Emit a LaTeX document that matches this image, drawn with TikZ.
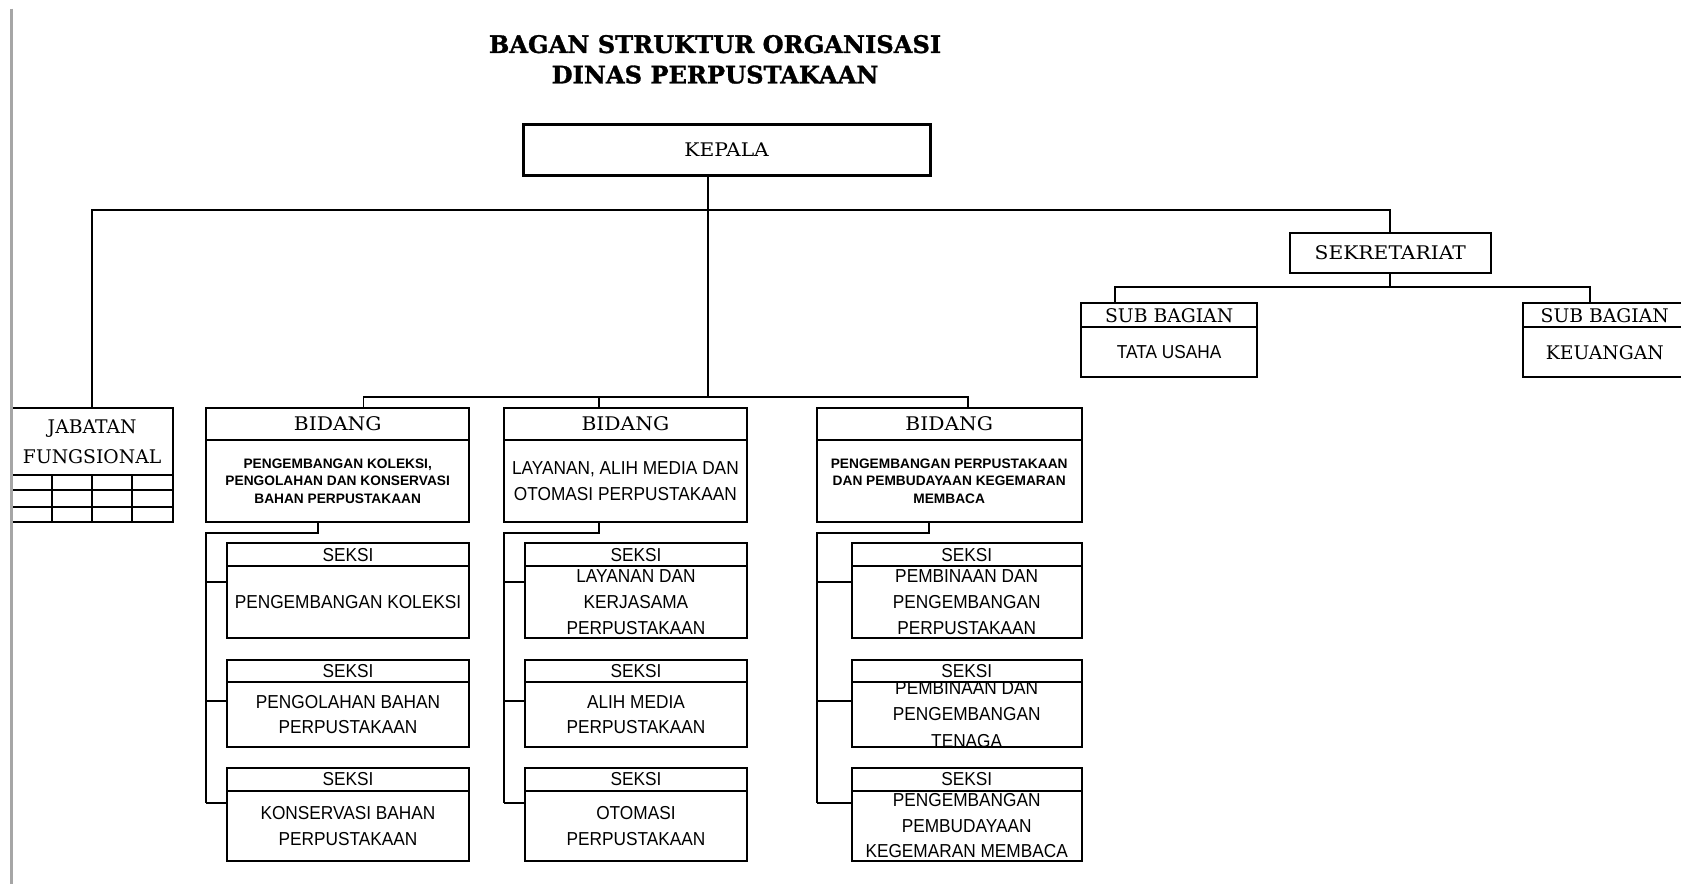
\documentclass[tikz,border=0pt]{standalone}
\usepackage{fontspec}
\newfontfamily\serifT{DejaVu Serif}
\newfontfamily\serifW{DejaVu Serif}[FakeStretch=1.08]
\newfontfamily\titleT{DejaVu Serif}[BoldFeatures={FakeBold=1.2}]
\newfontfamily\sansN{Liberation Sans}[FakeStretch=0.92]
\newfontfamily\sansS{Liberation Sans}
\begin{document}
\begin{tikzpicture}[x=1pt,y=-1pt,
  every node/.style={inner sep=0pt,outer sep=0pt},
  box/.style={draw,rectangle,line width=1.7pt,anchor=north west,align=center},
  sub/.style={draw,rectangle,line width=1.7pt,anchor=north,align=center},
  conn/.style={line width=1.7pt},
  serifL/.style={font=\serifT\fontsize{17.5}{28}\selectfont},
  serifX/.style={font=\serifW\fontsize{17.5}{28}\selectfont},
  sansL/.style={font=\sansN\fontsize{17.5}{24}\selectfont},
  sansSm/.style={font=\sansS\bfseries\fontsize{12.8}{16.2}\selectfont},
  titleF/.style={font=\titleT\bfseries\fontsize{22.5}{28.4}\selectfont}
]
\clip (0,0) rectangle (1568,824);
\fill[white] (0,0) rectangle (1568,824);

% title
\node[titleF,align=center] (title) at (667,55.4) {BAGAN STRUKTUR ORGANISASI\\DINAS PERPUSTAKAAN};

% top level
\node[box,line width=2.8pt,minimum width=379.4pt,minimum height=47.9pt,serifX] (kepala) at (488.1,116) {KEPALA};
\node[box,minimum width=187.2pt,minimum height=38pt,serifX] (sek) at (1203.2,217) {SEKRETARIAT};

% sub bagian
\node[box,minimum width=164.5pt,minimum height=22.3pt,serifL] (sub1h) at (1008.3,283) {SUB BAGIAN};
\node[sub,minimum width=164.5pt,minimum height=46.7pt,sansL] (sub1b) at (sub1h.south) {TATA USAHA};
\node[box,minimum width=152pt,minimum height=22.3pt,serifL] (sub2h) at (1420.9,283) {SUB BAGIAN};
\node[sub,minimum width=152pt,minimum height=46.7pt,serifL] (sub2b) at (sub2h.south) {KEUANGAN};

% jabatan fungsional
\node[box,minimum width=150.1pt,minimum height=62.1pt,serifL] (jab) at (10.9,380.9) {JABATAN\\FUNGSIONAL};
\node[sub,minimum width=150.1pt,minimum height=44.1pt] (jabg) at (jab.south) {};
\coordinate (gr1) at (0,457);
\coordinate (gr2) at (0,472.6);
\coordinate (gc1) at (48.2,0);
\coordinate (gc2) at (85.8,0);
\coordinate (gc3) at (123.4,0);
\draw[conn] (jabg.west |- gr1) -- (jabg.east |- gr1);
\draw[conn] (jabg.west |- gr2) -- (jabg.east |- gr2);
\draw[conn] (jabg.north -| gc1) -- (jabg.south -| gc1);
\draw[conn] (jabg.north -| gc2) -- (jabg.south -| gc2);
\draw[conn] (jabg.north -| gc3) -- (jabg.south -| gc3);

% bidang
\node[box,minimum width=245.6pt,minimum height=29.5pt,serifX] (b1h) at (192.2,380.9) {BIDANG};
\node[sub,minimum width=245.6pt,minimum height=76.8pt,sansSm] (b1b) at (b1h.south) {PENGEMBANGAN KOLEKSI,\\PENGOLAHAN DAN KONSERVASI\\BAHAN PERPUSTAKAAN};
\node[box,minimum width=226.3pt,minimum height=29.5pt,serifX] (b2h) at (470.2,380.9) {BIDANG};
\node[sub,minimum width=226.3pt,minimum height=76.8pt,sansL,font=\sansN\fontsize{17.5}{25}\selectfont] (b2b) at (b2h.south) {LAYANAN, ALIH MEDIA DAN\\OTOMASI PERPUSTAKAAN};
\node[box,minimum width=247.2pt,minimum height=29.5pt,serifX] (b3h) at (761.8,380.9) {BIDANG};
\node[sub,minimum width=247.2pt,minimum height=76.8pt,sansSm] (b3b) at (b3h.south) {PENGEMBANGAN PERPUSTAKAAN\\DAN PEMBUDAYAAN KEGEMARAN\\MEMBACA};

% seksi column 1
\node[box,minimum width=226.4pt,minimum height=21.1pt,sansL] (k11h) at (211.4,506.8) {SEKSI};
\node[sub,minimum width=226.4pt,minimum height=67.5pt,sansL] (k11b) at (k11h.south) {PENGEMBANGAN KOLEKSI};
\node[box,minimum width=226.4pt,minimum height=21pt,sansL] (k12h) at (211.4,615.3) {SEKSI};
\node[sub,minimum width=226.4pt,minimum height=60.5pt,sansL] (k12b) at (k12h.south) {PENGOLAHAN BAHAN\\PERPUSTAKAAN};
\node[box,minimum width=226.4pt,minimum height=21.5pt,sansL] (k13h) at (211.4,716) {SEKSI};
\node[sub,minimum width=226.4pt,minimum height=65.5pt,sansL] (k13b) at (k13h.south) {KONSERVASI BAHAN\\PERPUSTAKAAN};

% seksi column 2
\node[box,minimum width=206.6pt,minimum height=21.1pt,sansL] (k21h) at (489.9,506.8) {SEKSI};
\node[sub,minimum width=206.6pt,minimum height=67.5pt,sansL] (k21b) at (k21h.south) {LAYANAN DAN\\KERJASAMA\\PERPUSTAKAAN};
\node[box,minimum width=206.6pt,minimum height=21pt,sansL] (k22h) at (489.9,615.3) {SEKSI};
\node[sub,minimum width=206.6pt,minimum height=60.5pt,sansL] (k22b) at (k22h.south) {ALIH MEDIA\\PERPUSTAKAAN};
\node[box,minimum width=206.6pt,minimum height=21.5pt,sansL] (k23h) at (489.9,716) {SEKSI};
\node[sub,minimum width=206.6pt,minimum height=65.5pt,sansL] (k23b) at (k23h.south) {OTOMASI\\PERPUSTAKAAN};

% seksi column 3
\node[box,minimum width=214.6pt,minimum height=21.1pt,sansL] (k31h) at (794.4,506.8) {SEKSI};
\node[sub,minimum width=214.6pt,minimum height=67.5pt,sansL] (k31b) at (k31h.south) {PEMBINAAN DAN\\PENGEMBANGAN\\PERPUSTAKAAN};
\node[box,minimum width=214.6pt,minimum height=21pt,sansL] (k32h) at (794.4,615.3) {SEKSI};
\node[sub,minimum width=214.6pt,minimum height=60.5pt] (k32b) at (k32h.south) {};
\begin{scope}
  \clip (k32b.north west) rectangle (k32b.south east);
  \node[sansL,align=center,font=\sansN\fontsize{17.5}{24.6}\selectfont] (k32t) at (k32b.center) {PEMBINAAN DAN\\PENGEMBANGAN\\TENAGA};
\end{scope}
\node[box,minimum width=214.6pt,minimum height=21.5pt,sansL] (k33h) at (794.4,716) {SEKSI};
\node[sub,minimum width=214.6pt,minimum height=65.5pt,sansL] (k33b) at (k33h.south) {PENGEMBANGAN\\PEMBUDAYAAN\\KEGEMARAN MEMBACA};

% connectors: top level
\coordinate (jTop) at (660.7,195.9);
\coordinate (jBid) at (660.7,370.6);
\draw[conn] (jab.north) |- (jTop) -| (sek.north);
\draw[conn] (kepala.south -| jTop) -- (jBid);

% sekretariat to sub bagian
\coordinate (t1) at (1040,268);
\coordinate (t2) at (1483,268);
\draw[conn] (sek.south) -- (sek.south |- t1);
\draw[conn] (sub1h.north -| t1) |- (t2) -- (sub2h.north -| t2);

% bidang row
\coordinate (s1) at (339,370.6);
\coordinate (s2) at (559.1,370.6);
\coordinate (s3) at (902.6,370.6);
\draw[conn] (b1h.north -| s1) |- (s3) -- (b3h.north -| s3);
\draw[conn] (s2) -- (b2h.north -| s2);

% bidang to seksi
\coordinate (d1) at (297,496.8);
\coordinate (d2) at (559.1,496.8);
\coordinate (d3) at (866.8,496.8);
\coordinate (y1) at (0,542.5);
\coordinate (y2) at (0,653.9);
\coordinate (y3) at (0,748.7);
\draw[conn] (b1b.south -| d1) -- (d1) -| (b1b.west |- y3);
\draw[conn] (b2b.south -| d2) -- (d2) -| (b2b.west |- y3);
\draw[conn] (b3b.south -| d3) -- (d3) -| (b3b.west |- y3);
\draw[conn] (b1b.west |- y1) -- (k11b.west |- y1);
\draw[conn] (b1b.west |- y2) -- (k12b.west |- y2);
\draw[conn] (b1b.west |- y3) -- (k13b.west |- y3);
\draw[conn] (b2b.west |- y1) -- (k21b.west |- y1);
\draw[conn] (b2b.west |- y2) -- (k22b.west |- y2);
\draw[conn] (b2b.west |- y3) -- (k23b.west |- y3);
\draw[conn] (b3b.west |- y1) -- (k31b.west |- y1);
\draw[conn] (b3b.west |- y2) -- (k32b.west |- y2);
\draw[conn] (b3b.west |- y3) -- (k33b.west |- y3);

% left margin rule
\coordinate (rTop) at (10.7,8);
\coordinate (rBot) at (10.7,830);
\draw[black!35,line width=2.2pt] (rTop) -- (rBot);
\end{tikzpicture}
\end{document}
